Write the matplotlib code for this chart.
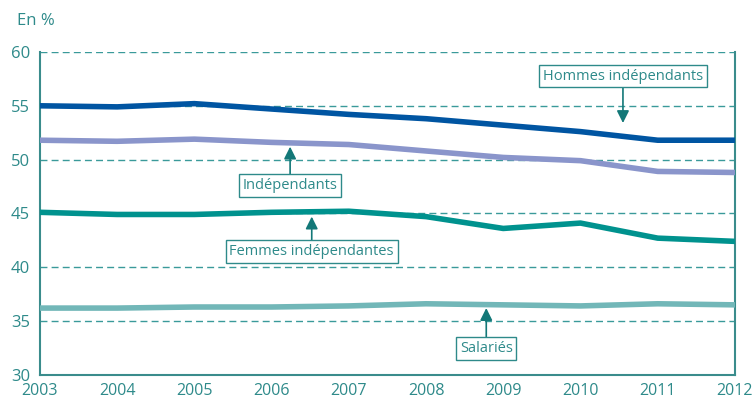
import matplotlib
matplotlib.use("Agg")
import matplotlib.pyplot as plt

plt.rcParams["font.family"] = ["Open Sans", "DejaVu Sans"]

TEXT = "#2E8A8A"
GRID = "#3A9A9A"

years = list(range(2003, 2013))
hommes = [55.0, 54.9, 55.2, 54.7, 54.2, 53.8, 53.2, 52.6, 51.8, 51.8]
independants = [51.8, 51.7, 51.9, 51.6, 51.4, 50.8, 50.2, 49.9, 48.9, 48.8]
femmes = [45.1, 44.9, 44.9, 45.1, 45.2, 44.7, 43.6, 44.1, 42.7, 42.4]
salaries = [36.2, 36.2, 36.3, 36.3, 36.4, 36.6, 36.5, 36.4, 36.6, 36.5]

series = [
    ("Hommes indépendants", hommes, "#0055A2"),
    ("Indépendants", independants, "#8A95CB"),
    ("Femmes indépendantes", femmes, "#00928E"),
    ("Salariés", salaries, "#72B7B8"),
]

# label position (x, y) and arrow tip (x, y)
labels = {
    "Hommes indépendants": ((2010.55, 57.75), (2010.55, 53.4)),
    "Indépendants": ((2006.24, 47.6), (2006.24, 51.2)),
    "Femmes indépendantes": ((2006.52, 41.45), (2006.52, 44.7)),
    "Salariés": ((2008.78, 32.45), (2008.78, 36.2)),
}

fig = plt.figure(figsize=(7.53, 4.03), dpi=100)
ax = fig.add_axes([0.053, 0.07, 0.923, 0.801])

for y in range(35, 61, 5):
    ax.axhline(y, color=GRID, lw=1, ls=(0, (5, 3)), zorder=1)

for name, vals, col in series:
    ax.plot(years, vals, color=col, lw=4, solid_capstyle="round", zorder=3)

for name, (pos, tip) in labels.items():
    ax.annotate(
        name, xy=tip, xytext=pos, ha="center", va="center",
        fontsize=10.5, color=TEXT, zorder=5,
        bbox=dict(boxstyle="square,pad=0.25", fc="white", ec=TEXT, lw=1),
        arrowprops=dict(arrowstyle="-|>,head_length=0.7,head_width=0.35",
                        color="#137878", lw=1.2, shrinkA=0, shrinkB=0),
    )

ax.set_xlim(2003, 2012)
ax.set_ylim(30, 60)
ax.set_xticks(years)
ax.set_yticks(range(30, 61, 5))
ax.tick_params(length=0, colors=TEXT, labelsize=12)
ax.tick_params(axis="x", pad=6, labelsize=11.5)
ax.tick_params(axis="y", pad=7)
for s in ["left", "bottom", "right"]:
    ax.spines[s].set_color("#3A8C8C")
    ax.spines[s].set_linewidth(1.5)
ax.spines["top"].set_visible(False)

fig.text(0.022, 0.948, "En %", color=TEXT, fontsize=12, va="center")

fig.savefig("out.png", dpi=100)
